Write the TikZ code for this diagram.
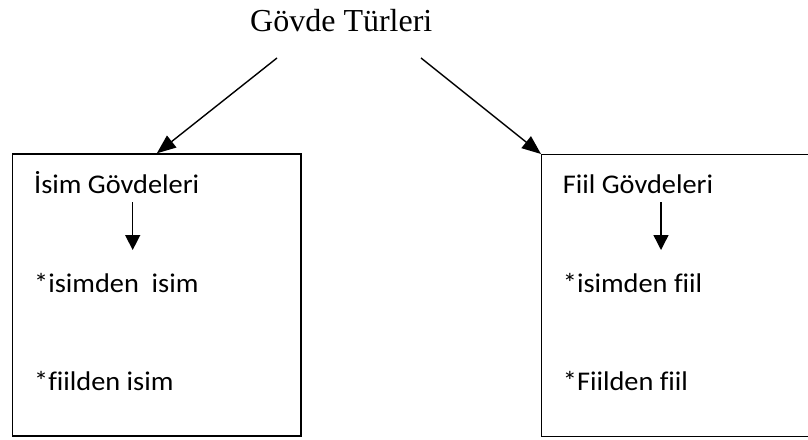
\documentclass[tikz,border=0pt]{standalone}
\usepackage{fontspec}
\setmainfont{Liberation Serif}
\newfontfamily\calfont[Ligatures=CommonOff]{Carlito}
\usetikzlibrary{arrows.meta}
\newcommand{\wide}[1]{\scalebox{1.05}[1]{#1}}
\tikzset{
  box/.style={draw, line width=1.4pt, rectangle, inner sep=0pt},
  label/.style={anchor=base west, inner sep=0pt, font=\calfont\fontsize{27}{31}\selectfont},
  bigarrow/.style={line width=1.4pt, -{Triangle[length=19pt,width=15pt]}},
  smallarrow/.style={line width=1.4pt, -{Triangle[length=15pt,width=15pt]}}
}
\begin{document}
\begin{tikzpicture}[x=1pt,y=-1pt]
\useasboundingbox (0,0) rectangle (808,439);
\clip (0,0) rectangle (808,439);
% title
\node[anchor=base west, inner sep=0pt, font=\fontsize{32}{36}\selectfont] (title) at (250,31) {Gövde Türleri};
% boxes
\node[box, minimum width=288.3pt, minimum height=282pt] (left) at (156.85,295) {};
\node[box, minimum width=289pt, minimum height=282pt, anchor=north west] (right) at (541,154) {};
% connectors from title
\coordinate (s1) at (277,58);
\coordinate (s2) at (421,58);
\draw[bigarrow] (s1) -- (left.north);
\draw[bigarrow] (s2) -- (right.north west);
% left texts
\node[label] (l1) at (34,193) {\wide{İsim Gövdeleri}};
\node[label] (l2) at (34,292) {\wide{*isimden\ \ isim}};
\node[label] (l3) at (34,390) {\wide{*fiilden isim}};
% right texts
\node[label] (r1) at (562.7,193) {\wide{Fiil Gövdeleri}};
\node[label] (r2) at (562.7,292) {\wide{*isimden fiil}};
\node[label] (r3) at (562.7,390) {\wide{*Fiilden fiil}};
% small arrows
\coordinate (la) at (132.7,202);
\coordinate (lb) at (132.7,250);
\coordinate (ra) at (661,202);
\coordinate (rb) at (661,250);
\draw[smallarrow] (la) -- (lb);
\draw[smallarrow] (ra) -- (rb);
\end{tikzpicture}
\end{document}
